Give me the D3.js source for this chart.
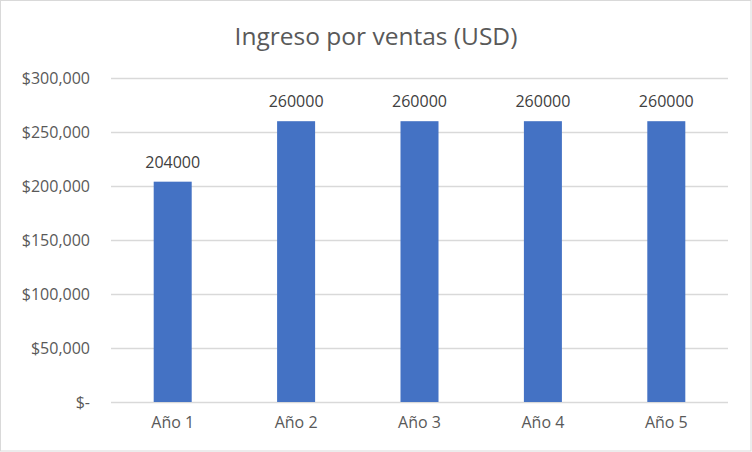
<!DOCTYPE html>
<html><head><meta charset="utf-8">
<script src="https://cdn.jsdelivr.net/npm/d3@7/dist/d3.min.js"></script>
<style>body{margin:0;background:#fff}svg{display:block}</style>
</head><body>
<script>
const categories = ["Año 1","Año 2","Año 3","Año 4","Año 5"];
const values = [204000,260000,260000,260000,260000];
const yTicks = [0,50000,100000,150000,200000,250000,300000];
const title = "Ingreso por ventas (USD)";

const W=752,H=452;
const m={left:111,right:24,top:78,bottom:50};
const font="'Open Sans', sans-serif";
const svg=d3.select("body").append("svg").attr("width",W).attr("height",H);
svg.append("rect").attr("x",0.5).attr("y",0.5).attr("width",W-1.5).attr("height",H-1.5)
  .attr("fill","#fff").attr("stroke","#d9d9d9").attr("stroke-width",1);

const x=d3.scaleBand().domain(categories).range([m.left,W-m.right]).padding(0);
const y=d3.scaleLinear().domain([0,300000]).range([H-m.bottom,m.top]);
const fmt=v=> v===0 ? "$-" : "$"+d3.format(",")(v);

const yAxis=svg.append("g").attr("transform",`translate(${m.left},0)`)
  .call(d3.axisLeft(y).tickValues(yTicks).tickSize(-(W-m.left-m.right)).tickFormat(fmt).tickPadding(21));
yAxis.select(".domain").remove();
yAxis.selectAll("line").attr("stroke","#d9d9d9").attr("stroke-width",1.3);
yAxis.selectAll("text").attr("fill","#595959").style("font-family",font).style("font-size","16px");

const xAxis=svg.append("g").attr("transform",`translate(0,${H-m.bottom})`)
  .call(d3.axisBottom(x).tickSize(0).tickPadding(15));
xAxis.select(".domain").remove();
xAxis.selectAll("text").attr("fill","#595959").style("font-family",font).style("font-size","16px");

const bw=x.bandwidth()*0.308;
svg.append("g").selectAll("rect").data(values).join("rect")
  .attr("x",(d,i)=>x(categories[i])+x.bandwidth()/2-bw/2)
  .attr("width",bw)
  .attr("y",d=>y(d)).attr("height",d=>y(0)-y(d))
  .attr("fill","#4472c4");

svg.append("g").selectAll("text").data(values).join("text")
  .attr("x",(d,i)=>x(categories[i])+x.bandwidth()/2)
  .attr("y",d=>y(d)-14)
  .attr("text-anchor","middle").attr("fill","#404040")
  .style("font-family",font).style("font-size","16px")
  .text(d=>d);

svg.append("text").attr("x",W/2).attr("y",45).attr("text-anchor","middle")
  .attr("fill","#595959").style("font-family",font).style("font-size","24.5px").text(title);
</script>
</body></html>
